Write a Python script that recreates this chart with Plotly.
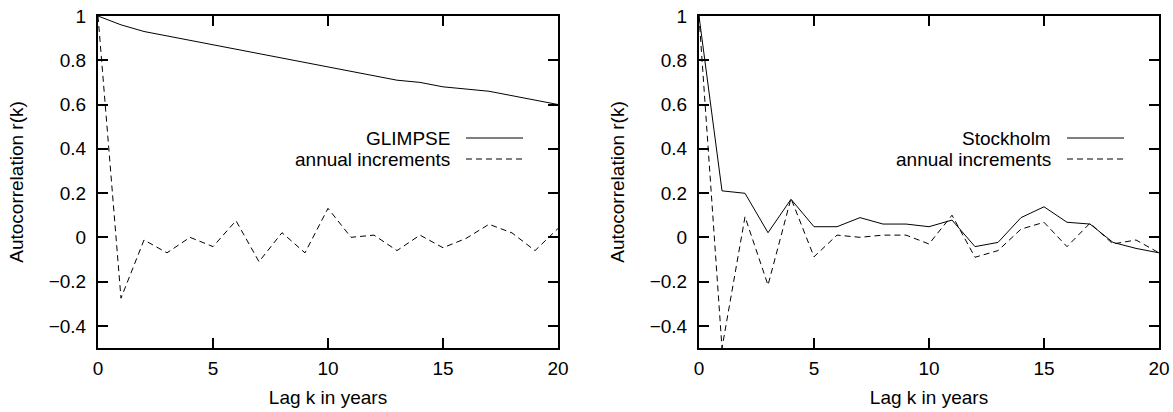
import plotly.graph_objects as go

lags = list(range(21))

glimpse = [1.0, 0.96, 0.93, 0.91, 0.89, 0.87, 0.85, 0.83, 0.81, 0.79, 0.77,
           0.75, 0.73, 0.71, 0.70, 0.68, 0.67, 0.66, 0.64, 0.62, 0.60]
glimpse_incr = [1.0, -0.275, -0.012, -0.07, 0.0, -0.042, 0.075, -0.11, 0.021, -0.07, 0.131,
                0.0, 0.01, -0.06, 0.01, -0.047, -0.005, 0.059, 0.02, -0.06, 0.04]

stockholm = [1.0, 0.21, 0.199, 0.021, 0.172, 0.048, 0.048, 0.089, 0.06, 0.06, 0.048,
             0.078, -0.042, -0.023, 0.089, 0.138, 0.068, 0.06, -0.023, -0.05, -0.07]
stockholm_incr = [1.0, -0.5, 0.093, -0.216, 0.176, -0.088, 0.01, 0.0, 0.01, 0.01, -0.03,
                  0.1, -0.09, -0.06, 0.037, 0.068, -0.042, 0.064, -0.03, -0.012, -0.07]

x_ticks = [0, 5, 10, 15, 20]
y_ticks = [-0.4, -0.2, 0, 0.2, 0.4, 0.6, 0.8, 1]
y_tick_labels = ["\u22120.4", "\u22120.2", "0", "0.2", "0.4", "0.6", "0.8", "1"]

x_title = "Lag k in years"
y_title = "Autocorrelation r(k)"
legend_left = ["GLIMPSE", "annual increments"]
legend_right = ["Stockholm", "annual increments"]

FONT = "Liberation Sans, Arial, sans-serif"
FS = 19
DASH = "6px,4px"

fig = go.Figure()
fig.add_trace(go.Scatter(x=lags, y=glimpse, mode="lines", line=dict(color="black", width=1),
                         xaxis="x", yaxis="y", showlegend=False))
fig.add_trace(go.Scatter(x=lags, y=glimpse_incr, mode="lines", line=dict(color="black", width=1, dash=DASH),
                         xaxis="x", yaxis="y", showlegend=False))
fig.add_trace(go.Scatter(x=lags, y=stockholm, mode="lines", line=dict(color="black", width=1),
                         xaxis="x2", yaxis="y2", showlegend=False))
fig.add_trace(go.Scatter(x=lags, y=stockholm_incr, mode="lines", line=dict(color="black", width=1, dash=DASH),
                         xaxis="x2", yaxis="y2", showlegend=False))

W, H = 1173, 412
ydom = [1 - 348 / H, 1 - 16 / H]
xdom1 = [98 / W, 558 / W]
xdom2 = [699 / W, 1159 / W]

def xax(dom, anchor):
    return dict(domain=dom, anchor=anchor, range=[0, 20], tickvals=x_ticks,
                ticktext=[str(v) for v in x_ticks],
                showline=True, linecolor="black", linewidth=2, mirror="ticks",
                ticks="inside", ticklen=10, tickwidth=1.5, tickcolor="black",
                showgrid=False, zeroline=False, automargin=False,
                ticklabeloverflow="allow",
                tickfont=dict(family=FONT, size=FS, color="black"),
                ticklabelstandoff=2,
                title=dict(text=x_title, font=dict(family=FONT, size=FS, color="black"), standoff=13))

def yax(anchor):
    return dict(domain=ydom, anchor=anchor, range=[-0.5, 1], tickvals=y_ticks,
                ticktext=y_tick_labels,
                showline=True, linecolor="black", linewidth=2, mirror="ticks",
                ticks="inside", ticklen=10, tickwidth=1.5, tickcolor="black",
                showgrid=False, zeroline=False, automargin=False,
                ticklabeloverflow="allow",
                tickfont=dict(family=FONT, size=FS, color="black"),
                ticklabelstandoff=6,
                title=dict(text=y_title, font=dict(family=FONT, size=FS, color="black"), standoff=20))

annotations = []
shapes = []
for xr, yr, labels in (("x domain", "y domain", legend_left), ("x2 domain", "y2 domain", legend_right)):
    for i, (lab, dash) in enumerate(zip(labels, ["solid", DASH])):
        yy = (348 - (138 + 21 * i)) / 332
        annotations.append(dict(text=lab, x=0.77, y=yy, xref=xr, yref=yr, xanchor="right",
                                yanchor="middle", showarrow=False,
                                font=dict(family=FONT, size=FS, color="black")))
        shapes.append(dict(type="line", xref=xr, yref=yr, x0=0.80, x1=0.924, y0=yy, y1=yy,
                           line=dict(color="black", width=1, dash=dash)))

fig.update_layout(
    width=W, height=H,
    margin=dict(l=0, r=0, t=0, b=0),
    paper_bgcolor="white", plot_bgcolor="white",
    xaxis=xax(xdom1, "y"), yaxis=yax("x"),
    xaxis2=xax(xdom2, "y2"), yaxis2=yax("x2"),
    annotations=annotations, shapes=shapes,
    showlegend=False,
)

fig.write_html(
    "out.html",
    config={"displayModeBar": False},
    post_script="document.body.style.margin='0';document.body.style.overflow='hidden';",
)
